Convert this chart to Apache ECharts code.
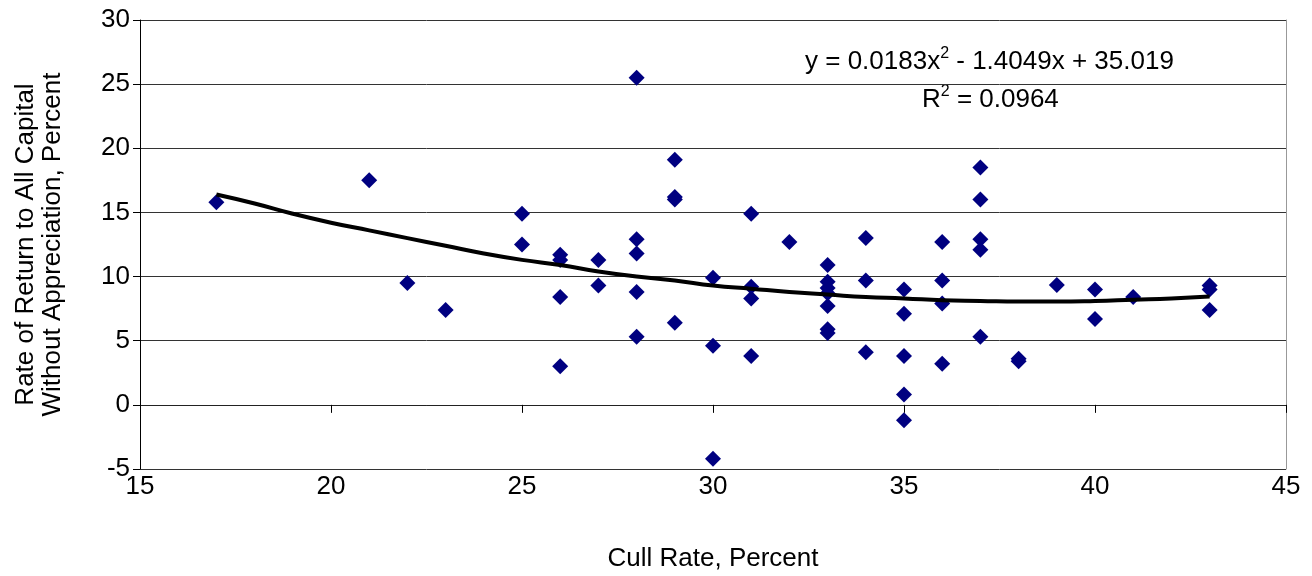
<!DOCTYPE html>
<html>
<head>
<meta charset="utf-8">
<script src="https://cdn.jsdelivr.net/npm/echarts@6/dist/echarts.min.js"></script>
<style>
  html, body { margin: 0; padding: 0; background: #fff; }
  #chart { width: 1312px; height: 576px; }
</style>
</head>
<body>
<div id="chart"></div>
<script>
// cull rate (x) and rate of return (y)
const cullRate = [
  17, 21, 22, 23,
  25, 25,
  26, 26, 26, 26,
  27, 27,
  28, 28, 28, 28, 28,
  29, 29, 29, 29,
  30, 30, 30,
  31, 31, 31, 31,
  32,
  33, 33, 33, 33, 33, 33, 33,
  34, 34, 34,
  35, 35, 35, 35, 35,
  36, 36, 36, 36,
  37, 37, 37, 37, 37,
  38, 38,
  39,
  40, 40,
  41,
  43, 43, 43
]
const returnRate = [
  15.8, 17.5, 9.5, 7.4,
  14.9, 12.5,
  11.7, 11.3, 8.4, 3.0,
  11.3, 9.3,
  25.5, 12.9, 11.8, 8.8, 5.3,
  19.1, 16.2, 16.0, 6.4,
  9.9, 4.6, -4.2,
  14.9, 9.2, 8.3, 3.8,
  12.7,
  10.9, 9.6, 9.1, 8.7, 7.7, 5.9, 5.6,
  13.0, 9.7, 4.1,
  9.0, 7.1, 3.8, 0.8, -1.2,
  12.7, 9.7, 7.9, 3.2,
  18.5, 16.0, 12.9, 12.1, 5.3,
  3.6, 3.4,
  9.35,
  9.0, 6.7,
  8.4,
  9.3, 9.0, 7.4
]

// polynomial trendline
const trendX = [17, 18, 19, 20, 21, 22, 23, 24, 25, 26, 27, 28, 29, 30,
  31, 32, 33, 34, 35, 36, 37, 38, 39, 40, 41, 42, 43]
const trendY = [16.4, 15.7, 14.9, 14.2, 13.6, 13.0, 12.4, 11.8, 11.3, 10.9, 10.4, 10.0, 9.7, 9.3,
  9.05, 8.8, 8.6, 8.4, 8.3, 8.15, 8.1, 8.05, 8.05, 8.1, 8.2, 8.3, 8.45]

const xTicks = { min: 15, max: 45, interval: 5 }
const yTicks = { min: -5, max: 30, interval: 5 }

const font = 'Liberation Sans, Arial, sans-serif'

const chart = echarts.init(document.getElementById('chart'))

const supRich = {
  n: { fontSize: 26, lineHeight: 32, fontFamily: font, color: '#000' },
  sup: { fontSize: 16, lineHeight: 14, fontFamily: font, color: '#000', verticalAlign: 'top' }
}

const option = {
  animation: false,
  textStyle: { fontFamily: font },
  grid: { left: 140, right: 26, top: 20, bottom: 107, outerBoundsMode: 'none', containLabel: false },
  xAxis: [
    {
      type: 'value',
      min: xTicks.min, max: xTicks.max, interval: xTicks.interval,
      axisLine: { show: false, onZero: false },
      axisTick: { show: false },
      splitLine: { show: false },
      axisLabel: { color: '#000', fontSize: 26, margin: 5, fontFamily: font },
      name: 'Cull Rate, Percent',
      nameLocation: 'middle',
      nameGap: 77,
      nameTextStyle: { color: '#000', fontSize: 26, fontFamily: font }
    },
    {
      // the axis line crosses at y = 0 with its ticks
      type: 'value',
      position: 'bottom',
      min: xTicks.min, max: xTicks.max, interval: xTicks.interval,
      axisLine: { show: true, onZero: true, lineStyle: { color: '#222', width: 1 } },
      axisTick: { show: true, length: 8, lineStyle: { color: '#000' } },
      axisLabel: { show: false },
      splitLine: { show: false }
    }
  ],
  yAxis: [
    {
      type: 'value',
      min: yTicks.min, max: yTicks.max, interval: yTicks.interval,
      axisLine: { show: true, onZero: false, lineStyle: { color: '#000', width: 1 } },
      axisTick: { show: true, length: 7, lineStyle: { color: '#000' } },
      splitLine: { show: true, lineStyle: { color: '#333', width: 1 } },
      axisLabel: { color: '#000', fontSize: 26, margin: 10, fontFamily: font },
      name: 'Rate of Return to All Capital\nWithout Appreciation, Percent',
      nameLocation: 'middle',
      nameGap: 74,
      nameRotate: 90,
      nameTextStyle: { color: '#000', fontSize: 26, lineHeight: 27, fontFamily: font }
    },
    {
      // right border of the plot area
      type: 'value',
      position: 'right',
      min: yTicks.min, max: yTicks.max, interval: yTicks.interval,
      axisLine: { show: true, onZero: false, lineStyle: { color: '#999', width: 1 } },
      axisTick: { show: false },
      axisLabel: { show: false },
      splitLine: { show: false }
    }
  ],
  graphic: [
    {
      type: 'text',
      left: 805, top: 46,
      style: {
        text: '{n|y = 0.0183x}{sup|2}{n| - 1.4049x + 35.019}',
        rich: supRich
      }
    },
    {
      type: 'text',
      left: 922, top: 84,
      style: {
        text: '{n|R}{sup|2}{n| = 0.0964}',
        rich: supRich
      }
    }
  ],
  series: [
    {
      type: 'scatter',
      symbol: 'diamond',
      symbolSize: 16,
      itemStyle: { color: '#000080', opacity: 1 },
      data: cullRate.map((x, i) => [x, returnRate[i]]),
      z: 2
    },
    {
      type: 'line',
      data: trendX.map((x, i) => [x, trendY[i]]),
      smooth: true,
      showSymbol: false,
      lineStyle: { color: '#000', width: 4 },
      z: 3
    }
  ]
}

chart.setOption(option)

window.addEventListener('resize', () => {
  chart.resize()
})
</script>
</body>
</html>
